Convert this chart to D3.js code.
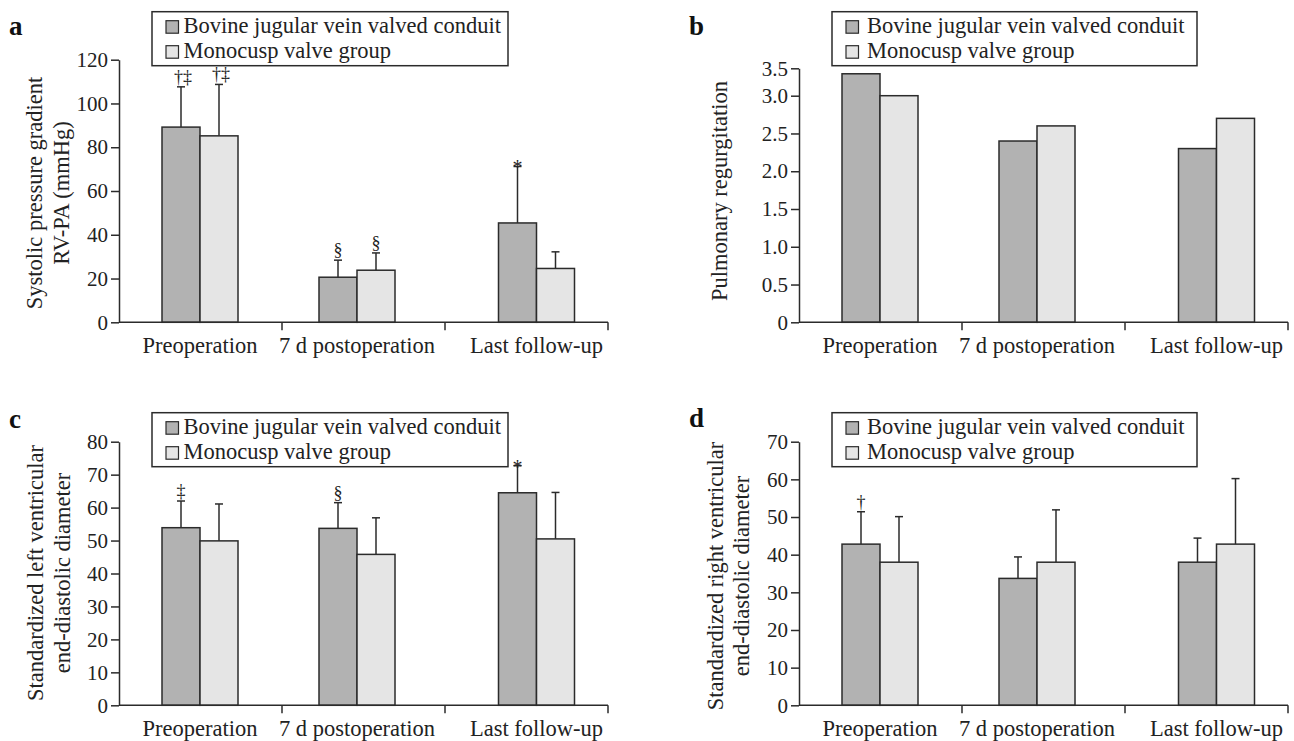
<!DOCTYPE html>
<html>
<head>
<meta charset="utf-8">
<script src="https://cdn.jsdelivr.net/npm/d3@7"></script>
<style>
body { margin: 0; background: #fff; }
</style>
</head>
<body>
<svg></svg>
<script>
const svgWidth = 1294;
const svgHeight = 741;

const categories = ["Preoperation", "7 d postoperation", "Last follow-up"];
const groups = ["Bovine jugular vein valved conduit", "Monocusp valve group"];

// panel a: systolic pressure gradient RV-PA (mmHg), mean and SD
const gradientBovine = [89.2, 20.6, 45.4];
const gradientBovineSD = [18.4, 7.8, 25.8];
const gradientMono = [85.2, 23.8, 24.6];
const gradientMonoSD = [23.5, 7.9, 7.6];
const gradientMarksBovine = ["†‡", "§", "*"];
const gradientMarksMono = ["†‡", "§", ""];
const gradientTicks = [0, 20, 40, 60, 80, 100, 120];

// panel b: pulmonary regurgitation grade
const regurgBovine = [3.4, 2.4, 2.3];
const regurgMono = [3.0, 2.6, 2.7];
const regurgTicks = [0, 0.5, 1.0, 1.5, 2.0, 2.5, 3.0, 3.5];

// panel c: standardized LV end-diastolic diameter
const lvBovine = [53.9, 53.7, 64.5];
const lvBovineSD = [8.1, 7.8, 8.2];
const lvMono = [49.9, 45.8, 50.5];
const lvMonoSD = [11.2, 11.1, 14.1];
const lvMarksBovine = ["‡", "§", "*"];
const lvTicks = [0, 10, 20, 30, 40, 50, 60, 70, 80];

// panel d: standardized RV end-diastolic diameter
const rvBovine = [42.8, 33.7, 38.0];
const rvBovineSD = [8.6, 5.7, 6.4];
const rvMono = [38.0, 38.0, 42.8];
const rvMonoSD = [12.1, 13.9, 17.4];
const rvMarksBovine = ["†", "", ""];
const rvTicks = [0, 10, 20, 30, 40, 50, 60, 70];

const fillColors = ["#b2b2b2", "#e5e5e5"];
const ink = "#2b2b2b";
const serif = "'Liberation Serif', 'DejaVu Serif', serif";
const noMarks = ["", "", ""];
// the groups are not evenly spaced in the original figure
const groupCenters = [81, 238, 417.5];
const axisLength = 489;

let svg = d3.select('svg')
  .attr('width', svgWidth)
  .attr('height', svgHeight)
  .attr('font-family', serif)
  .style('font-family', serif);

svg.append('rect').attr('width', svgWidth).attr('height', svgHeight).attr('fill', '#fff');

const fmtInt = d => String(d);
const fmtOne = d => d === 0 ? "0" : d.toFixed(1);

const panels = [
  { letter: "a", left: 119, bottom: 322.3, letterY: 35, domain: [0, 120], range: [322.3, 59.7],
    ticks: gradientTicks, fmt: fmtInt, labelX: [42, 69], labelY: 193,
    title: ["Systolic pressure gradient", "RV-PA (mmHg)"],
    values: [gradientBovine, gradientMono], sd: [gradientBovineSD, gradientMonoSD],
    marks: [gradientMarksBovine, gradientMarksMono], legendTop: 11.7, legendW: 356, textX: 31.5 },
  { letter: "b", left: 799, bottom: 322.3, letterY: 35, domain: [0, 3.0, 3.5], range: [322.3, 95.7, 68.3],
    ticks: regurgTicks, fmt: fmtOne, labelX: [727], labelY: 191,
    title: ["Pulmonary regurgitation"],
    values: [regurgBovine, regurgMono], sd: null,
    marks: [noMarks, noMarks], legendTop: 11.7, legendW: 365, textX: 35 },
  { letter: "c", left: 119, bottom: 705.3, letterY: 428, domain: [0, 80], range: [705.3, 441.7],
    ticks: lvTicks, fmt: fmtInt, labelX: [43, 70], labelY: 573,
    title: ["Standardized left ventricular", "end-diastolic diameter"],
    values: [lvBovine, lvMono], sd: [lvBovineSD, lvMonoSD],
    marks: [lvMarksBovine, noMarks], legendTop: 412.7, legendW: 356, textX: 31.5 },
  { letter: "d", left: 799, bottom: 705.3, letterY: 427, domain: [0, 70], range: [705.3, 441.7],
    ticks: rvTicks, fmt: fmtInt, labelX: [723, 749], labelY: 576,
    title: ["Standardized right ventricular", "end-diastolic diameter"],
    values: [rvBovine, rvMono], sd: [rvBovineSD, rvMonoSD],
    marks: [rvMarksBovine, noMarks], legendTop: 412.7, legendW: 365, textX: 35 }
];

const drawPanel = function drawPanel(p) {
  let g = svg.append('g');
  let band = d3.scaleBand().domain(categories).range([p.left, p.left + axisLength]);
  let x = d3.scaleOrdinal(categories, groupCenters.map(c => p.left + c));
  let inner = d3.scaleBand().domain(groups).range([-38, 38]);
  let y = d3.scaleLinear().domain(p.domain).range(p.range);
  let notes = g.append('g').style('opacity', 0.995);

  // bars, error bars and significance marks
  groups.forEach(function (grp, i) {
    categories.forEach(function (cat, j) {
      let v = p.values[i][j];
      let bx = x(cat) + inner(grp);
      let cx = bx + inner.bandwidth() / 2;
      let top = y(v);
      if (p.sd) {
        let et = y(v + p.sd[i][j]);
        g.append('line').attr('x1', cx).attr('x2', cx).attr('y1', top).attr('y2', et)
          .attr('stroke', ink).attr('stroke-width', 1.5);
        g.append('line').attr('x1', cx - 4).attr('x2', cx + 4).attr('y1', et).attr('y2', et)
          .attr('stroke', ink).attr('stroke-width', 1.5);
        top = et;
      }
      g.append('rect')
        .attr('x', bx).attr('y', y(v))
        .attr('width', inner.bandwidth()).attr('height', p.bottom - y(v))
        .attr('fill', fillColors[i]).attr('stroke', ink).attr('stroke-width', 1.5);
      let m = p.marks[i][j];
      if (m) {
        let star = m === "*";
        notes.append('text')
          .attr('x', cx + (m.length > 1 ? 2 : 0))
          .attr('y', star ? top + 8 : top - 4)
          .attr('text-anchor', 'middle')
          .attr('font-size', star ? 20 : 18)
          .attr('fill', '#222')
          .text(m);
      }
    });
  });

  // y axis
  let ya = g.append('g')
    .attr('transform', `translate(${p.left},0)`)
    .call(d3.axisLeft(y).tickValues(p.ticks).tickSize(8).tickSizeOuter(0).tickPadding(3).tickFormat(p.fmt));
  ya.attr('font-size', 21).attr('font-family', serif);
  ya.select('.domain').attr('stroke', ink).attr('stroke-width', 1.5);
  ya.selectAll('.tick line').attr('stroke', ink).attr('stroke-width', 1.5);
  ya.selectAll('.tick text').attr('fill', '#222');

  // x axis: ticks between categories
  g.append('line').attr('x1', p.left).attr('x2', p.left + axisLength).attr('y1', p.bottom).attr('y2', p.bottom)
    .attr('stroke', ink).attr('stroke-width', 1.5);
  categories.forEach(function (cat) {
    let tx = band(cat) + band.bandwidth();
    g.append('line').attr('x1', tx).attr('x2', tx).attr('y1', p.bottom).attr('y2', p.bottom + 8)
      .attr('stroke', ink).attr('stroke-width', 1.5);
    g.append('text')
      .attr('x', x(cat)).attr('y', p.bottom + 31)
      .attr('text-anchor', 'middle').attr('font-size', 22.5).attr('fill', '#222')
      .text(cat);
  });

  // y label
  p.title.forEach(function (t, k) {
    g.append('text')
      .attr('transform', `translate(${p.labelX[k]},${p.labelY}) rotate(-90)`)
      .attr('text-anchor', 'middle').attr('font-size', 22.5).attr('fill', '#222')
      .text(t);
  });

  // panel letter
  g.append('text')
    .attr('x', p.left - 110).attr('y', p.letterY)
    .attr('font-size', 27).attr('font-weight', 'bold').attr('fill', '#111')
    .text(p.letter);

  // legend
  let lg = g.append('g').attr('transform', `translate(${p.left + 33},${p.legendTop})`);
  lg.append('rect').attr('width', p.legendW).attr('height', 54)
    .attr('fill', '#fff').attr('stroke', ink).attr('stroke-width', 1.5);
  groups.forEach(function (grp, i) {
    lg.append('rect').attr('x', 14).attr('y', 9 + i * 25).attr('width', 12.5).attr('height', 12.5)
      .attr('fill', fillColors[i]).attr('stroke', ink).attr('stroke-width', 1.2);
    lg.append('text').attr('x', p.textX).attr('y', 21.5 + i * 25).attr('font-size', 22.5).attr('fill', '#222')
      .text(grp);
  });
  notes.raise();
};

panels.forEach(drawPanel);
</script>
</body>
</html>
